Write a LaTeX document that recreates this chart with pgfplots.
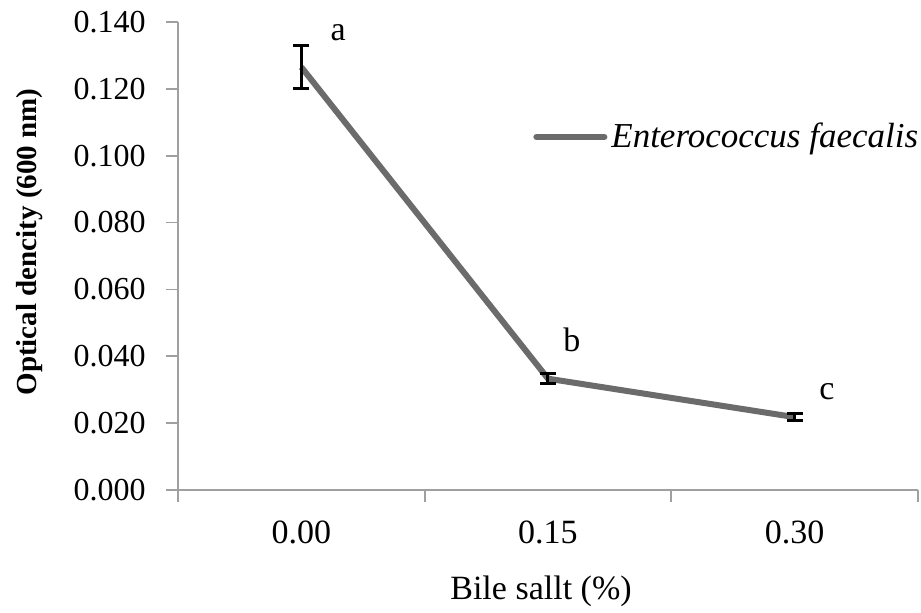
\documentclass[border=0pt]{standalone}
\usepackage{fontspec}
\setmainfont{Liberation Serif}
\usepackage{pgfplots}
\pgfplotsset{compat=1.18}
\definecolor{linegray}{HTML}{6B6B6B}
\definecolor{axgray}{HTML}{A0A0A0}
\begin{document}
\begin{tikzpicture}
\begin{axis}[
  scale only axis,
  width=370pt, height=234pt,
  xmin=-0.5, xmax=2.5,
  ymin=0, ymax=0.14,
  axis x line=bottom, axis y line=left,
  axis line style={-, axgray, line width=0.9pt},
  every tick/.style={axgray, line width=0.9pt},
  tick align=outside,
  major tick length=6pt,
  xtick={-0.5,0.5,1.5,2.5},
  xticklabels={},
  extra x ticks={0,1,2},
  extra x tick labels={0.00,0.15,0.30},
  extra x tick style={major tick length=0pt,
     xticklabel style={anchor=north, inner sep=0pt, yshift=-15pt, font=\fontsize{17}{20}\selectfont}},
  ytick={0,0.02,0.04,0.06,0.08,0.10,0.12,0.14},
  yticklabels={0.000,0.020,0.040,0.060,0.080,0.100,0.120,0.140},
  yticklabel style={anchor=east, inner sep=0pt, xshift=-10pt, font=\fontsize{16}{19}\selectfont},
  xlabel={Bile sallt (\%)},
  xlabel style={at={(rel axis cs:0.5,0)}, anchor=north, inner sep=0pt, yshift=-43pt, xshift=-3.5pt, font=\fontsize{17}{20}\selectfont},
  ylabel={\textbf{Optical dencity (600 nm)}},
  ylabel style={at={(rel axis cs:0,0.5)}, anchor=center, inner sep=0pt, yshift=74pt, xshift=7pt, font=\fontsize{14.5}{17}\selectfont},
  legend style={at={(rel axis cs:0.4797,0.7543)}, anchor=west, draw=none, fill=none, inner sep=0pt,
     font=\fontsize{17.5}{20}\selectfont\itshape},
  legend image code/.code={\draw[linegray, line width=3pt, line cap=round] (0pt,0pt) -- (34pt,0pt);},
  clip=false,
]
\addplot[linegray, line width=3pt, line join=round, mark=none,
  error bars/.cd, y dir=both, y explicit,
  error bar style={black, line width=1.5pt},
  error mark options={black, line width=1.5pt, mark size=4pt, rotate=90}]
  coordinates {(0,0.1265) +- (0,0.0064) (1,0.0333) +- (0,0.0015) (2,0.0218) +- (0,0.0010)};
\addlegendentry{Enterococcus faecalis}
\node[font=\fontsize{17}{20}\selectfont] at (axis cs:0.149,0.1367) {a};
\node[font=\fontsize{17}{20}\selectfont] at (axis cs:1.097,0.0449) {b};
\node[font=\fontsize{17}{20}\selectfont] at (axis cs:2.131,0.0293) {c};
\coordinate (bl) at (rel axis cs:0,0);
\coordinate (tr) at (rel axis cs:1,1);
\end{axis}
\pgfresetboundingbox
\path[use as bounding box] ([xshift=-89pt,yshift=-61.5pt]bl) rectangle ([xshift=1.5pt,yshift=11pt]tr);
\end{tikzpicture}
\end{document}
